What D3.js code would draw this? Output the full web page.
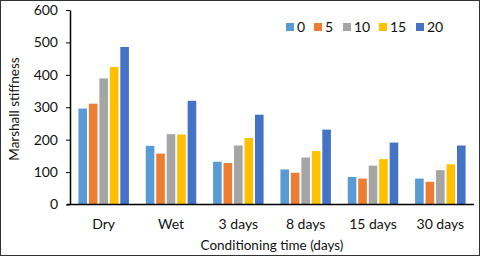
<!DOCTYPE html>
<html><head><meta charset="utf-8">
<script src="https://cdn.jsdelivr.net/npm/d3@7"></script>
<style>body{margin:0;background:#fff}svg{display:block}</style>
</head><body>
<script>
const categories = ["Dry","Wet","3 days","8 days","15 days","30 days"];
const seriesNames = ["0","5","10","15","20"];
const s0  = [296,181,132,108,85,80];
const s5  = [311,157,128,98,80,70];
const s10 = [389,217,182,145,120,106];
const s15 = [424,216,205,165,140,124];
const s20 = [486,320,277,231,191,182];
const yTicks = [0,100,200,300,400,500,600];
const colors = ["#5B9BD5","#ED7D31","#A5A5A5","#FFC000","#4472C4"];
const series = [s0,s5,s10,s15,s20];

const W=480,H=256;
const font = "Lato, 'Open Sans', sans-serif";
const svg = d3.select("body").append("svg").attr("width",W).attr("height",H);
svg.append("rect").attr("x",0.5).attr("y",0.5).attr("width",W-1).attr("height",H-1).attr("fill","#fff").attr("stroke","#333");

const m={l:70,r:474,t:10,b:204.5};
const x0 = d3.scaleBand().domain(categories).range([m.l,m.r]).paddingInner(0.25).paddingOuter(0.125);
const x1 = d3.scaleBand().domain(seriesNames).range([0,x0.bandwidth()]).paddingInner(0.18);
const y = d3.scaleLinear().domain([0,600]).range([m.b,m.t]);

const g = svg.append("g");
categories.forEach((c,i)=>{
  seriesNames.forEach((s,j)=>{
    g.append("rect").attr("x",x0(c)+x1(s)).attr("y",y(series[j][i]))
      .attr("width",x1.bandwidth()).attr("height",m.b-y(series[j][i])).attr("fill",colors[j]);
  });
});

const ya = svg.append("g").attr("transform",`translate(${m.l},0)`)
  .call(d3.axisLeft(y).tickValues(yTicks).tickSize(4).tickSizeOuter(0));
ya.select(".domain").attr("stroke","#000").attr("stroke-width",1.5);
ya.selectAll(".tick line").attr("stroke","#000");
ya.selectAll("text").attr("font-family",font).attr("font-size",14).attr("fill","#111").attr("dx",-5);

const xa = svg.append("g").attr("transform",`translate(0,${m.b})`)
  .call(d3.axisBottom(x0).tickSize(0).tickSizeOuter(0));
xa.select(".domain").attr("stroke","#000").attr("stroke-width",1.5).attr("d",`M${m.l-3},0H${m.r}`);
xa.selectAll("text").attr("font-family",font).attr("font-size",14).attr("fill","#111").attr("dy",21);

svg.append("text").attr("transform",`translate(19,109) rotate(-90)`)
  .attr("text-anchor","middle").attr("font-family",font).attr("font-size",13.5).attr("fill","#111").text("Marshall stiffness");
svg.append("text").attr("x",272).attr("y",250).attr("text-anchor","middle")
  .attr("font-family",font).attr("font-size",13.5).attr("fill","#111").text("Conditioning time (days)");

const legX=[286,314,343,379,416];
const leg = svg.append("g");
seriesNames.forEach((s,j)=>{
  leg.append("rect").attr("x",legX[j]).attr("y",23).attr("width",8).attr("height",8).attr("fill",colors[j]);
  leg.append("text").attr("x",legX[j]+11).attr("y",32).attr("font-family",font).attr("font-size",14).attr("fill","#111").text(s);
});
</script>
</body></html>
